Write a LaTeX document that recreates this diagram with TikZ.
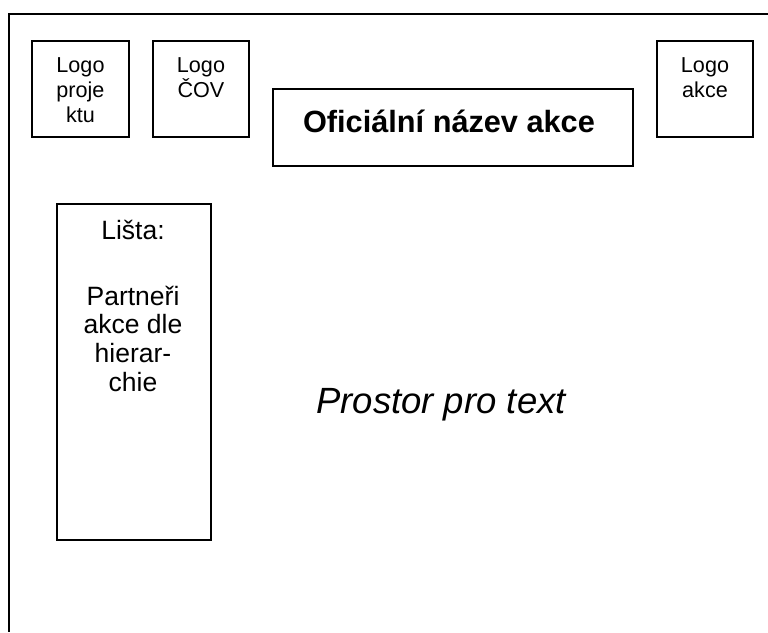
\documentclass[tikz,border=0pt]{standalone}
\usepackage{fontspec}
\setmainfont{Liberation Sans}
\begin{document}
\begin{tikzpicture}[x=1pt,y=-1pt,
  box/.style={draw=black,line width=1.3pt,inner sep=0pt,outer sep=0pt},
  frame/.style={line width=2pt},
  small/.style={anchor=base,inner sep=0pt,font=\fontsize{21.6}{25}\selectfont},
  mid/.style={anchor=base,inner sep=0pt,font=\fontsize{26.5}{28.7}\selectfont},
]
\useasboundingbox[fill=white] (0,0) rectangle (768,632);
% outer frame
\coordinate (fr) at (768,14);
\coordinate (fc) at (9,14);
\coordinate (fb) at (9,632);
\draw[frame] (fr) -- (fc) -- (fb);
% boxes
\node[box,minimum width=97pt,minimum height=96pt] (lp) at (80.5,89) {};
\node[box,minimum width=96pt,minimum height=96pt] (lc) at (201,89) {};
\node[box,minimum width=96pt,minimum height=96pt] (la) at (705,89) {};
\node[box,minimum width=360pt,minimum height=77pt] (of) at (453,127.5) {};
\node[box,minimum width=154pt,minimum height=336pt] (li) at (134,372) {};
% texts
\node[small] (t1) at (80.5,72) {Logo};
\node[small] (t2) at (80.5,97) {proje};
\node[small] (t3) at (80.5,122) {ktu};
\node[small] (t4) at (201,72) {Logo};
\node[small] (t5) at (201,97) {ČOV};
\node[small] (t6) at (705,72) {Logo};
\node[small] (t7) at (705,97) {akce};
\node[anchor=base,inner sep=0pt,font=\fontsize{30.7}{35}\selectfont\bfseries] (t8) at (449,132) {Oficiální název akce};
\node[mid] (l1) at (133,239) {Lišta:};
\node[mid] (l2) at (133,305) {Partneři};
\node[mid] (l3) at (133,333.5) {akce dle};
\node[mid] (l4) at (133,362) {hierar-};
\node[mid] (l5) at (133,391) {chie};
\node[anchor=base,inner sep=0pt,font=\fontsize{36.5}{42}\selectfont\itshape] (pr) at (441,413) {Prostor pro text};
\end{tikzpicture}
\end{document}
